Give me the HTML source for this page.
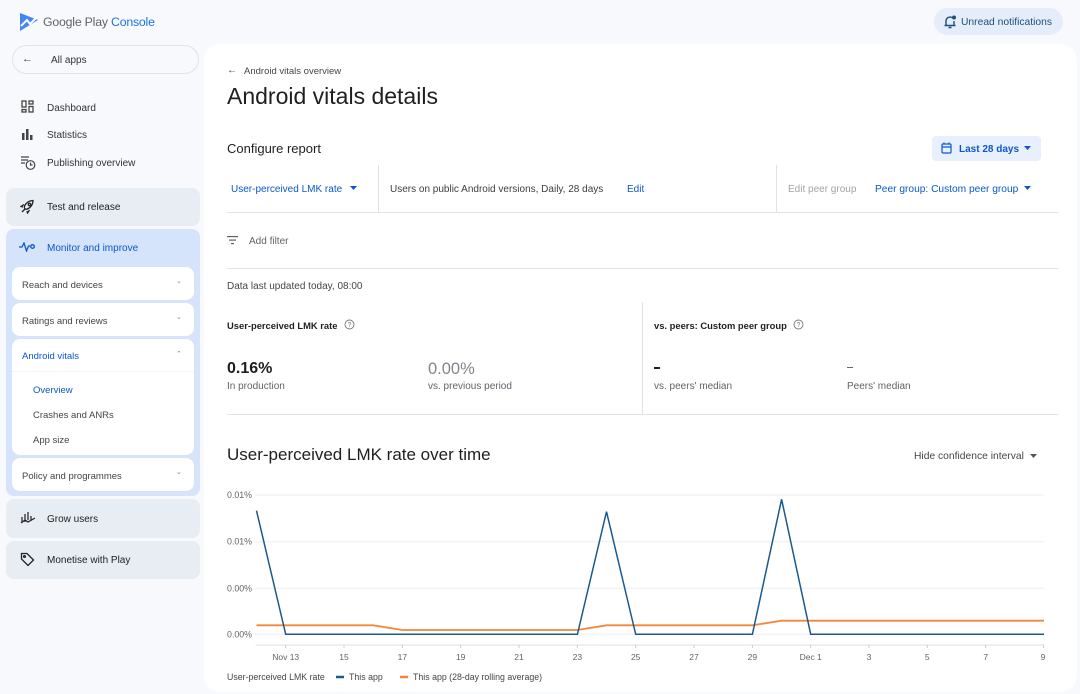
<!DOCTYPE html>
<html><head><meta charset="utf-8">
<style>
*{margin:0;padding:0;box-sizing:border-box}
html,body{width:1080px;height:694px;overflow:hidden;background:#f7f9fc;font-family:"Liberation Sans",Arial,sans-serif;color:#1f1f1f}
.a{position:absolute;white-space:nowrap;line-height:1}
.box{position:absolute;border-radius:8px}
.s10{font-size:10px}
.g{color:#444746}
.b{color:#0b57d0}
</style></head><body>

<!-- header -->
<svg class="a" style="left:19px;top:12px" width="22" height="20" viewBox="0 0 22 20">
<path d="M1 1 L19 8 L1 19 Z" fill="#4285f4"/>
<path d="M2 14 L8 8 L11 12 L18 5" stroke="#fff" stroke-width="2" fill="none"/>
</svg>
<div class="a" style="left:43px;top:16px;font-size:12.3px;letter-spacing:-0.2px;color:#5f6368">Google Play <span style="color:#1a73e8">Console</span></div>

<div class="box" style="left:934px;top:8px;width:129px;height:27px;border-radius:14px;background:#e5edfa"></div>
<svg class="a" style="left:943px;top:14px" width="14" height="15" viewBox="0 0 14 15">
<path d="M3 11 V7 a4 4 0 0 1 6-3.4 M11 7 V11 M1.5 11.5 H12.5 M5.5 13.5 H8.5" stroke="#1d4f7c" stroke-width="1.4" fill="none"/>
<circle cx="11" cy="3.5" r="2" fill="#1d4f7c"/>
</svg>
<div class="a" style="left:961px;top:17.5px;font-size:10.3px;color:#1d4f7c">Unread notifications</div>

<!-- sidebar -->
<div class="box" style="left:12px;top:45px;width:187px;height:29px;border-radius:15px;border:1px solid #dfe3ea;background:#f7f9fc"></div>
<div class="a" style="left:22px;top:54px;font-size:11px;color:#444">←</div>
<div class="a s10" style="left:51px;top:56px;color:#333">All apps</div>

<svg class="a" style="left:21px;top:100px" width="13" height="13" viewBox="0 0 13 13" fill="none" stroke="#444" stroke-width="1.3"><rect x="1" y="1" width="4" height="6"/><rect x="8" y="1" width="4" height="3"/><rect x="1" y="9.5" width="4" height="2.5"/><rect x="8" y="6.5" width="4" height="5.5"/></svg>
<div class="a s10" style="left:47px;top:104px;color:#333">Dashboard</div>
<svg class="a" style="left:21px;top:128px" width="13" height="12" viewBox="0 0 13 12" fill="#444"><rect x="1" y="5" width="2.5" height="7"/><rect x="5" y="1" width="2.5" height="11"/><rect x="9" y="7" width="2.5" height="5"/></svg>
<div class="a s10" style="left:47px;top:131px;color:#333">Statistics</div>
<svg class="a" style="left:20px;top:155px" width="16" height="16" viewBox="0 0 16 16" fill="none" stroke="#444" stroke-width="1.2"><path d="M1 2H9M1 5H8M1 8H5"/><circle cx="10.5" cy="10" r="4.3"/><path d="M10.5 7.5V10H12.5"/></svg>
<div class="a s10" style="left:47px;top:159px;color:#333">Publishing overview</div>

<div class="box" style="left:6px;top:188px;width:194px;height:38px;background:#e8ecf3"></div>
<svg class="a" style="left:20px;top:199px" width="15" height="15" viewBox="0 0 15 15" fill="none" stroke="#222" stroke-width="1.3"><path d="M5 10 C3 8 6 2 13 1.5 C13 8 7 11 5 10Z M5 10 L2 13 M3 8 L1 7.5 L4 5.5 M7 12 L7.5 14 L9.5 11"/><circle cx="9.5" cy="5.5" r="1.2"/></svg>
<div class="a s10" style="left:47px;top:203px;color:#1f1f1f">Test and release</div>

<div class="box" style="left:6px;top:229px;width:194px;height:267px;background:#d5e3fb"></div>
<svg class="a" style="left:19px;top:242px" width="17" height="10" viewBox="0 0 17 10" fill="none" stroke="#0b57d0" stroke-width="1.3"><path d="M0 5H3L5 1L7.5 9L9.5 4H11"/><circle cx="13.5" cy="4.5" r="1.8"/></svg>
<div class="a s10 b" style="left:47px;top:244px">Monitor and improve</div>

<div class="box" style="left:12px;top:267px;width:182px;height:33px;background:#fff"></div>
<div class="a" style="left:22px;top:280.5px;font-size:9.5px;color:#444">Reach and devices</div>
<div class="a" style="left:176px;top:278px;font-size:7px;color:#888">⌄</div>
<div class="box" style="left:12px;top:303px;width:182px;height:33px;background:#fff"></div>
<div class="a" style="left:22px;top:316.5px;font-size:9.5px;color:#444">Ratings and reviews</div>
<div class="a" style="left:176px;top:314px;font-size:7px;color:#888">⌄</div>
<div class="box" style="left:12px;top:339px;width:182px;height:116px;background:#fff"></div>
<div class="a b" style="left:22px;top:352px;font-size:9.5px">Android vitals</div>
<div class="a" style="left:176px;top:351px;font-size:7px;color:#888">⌃</div>
<div style="position:absolute;left:12px;top:371px;width:182px;height:1px;background:#f3f5f8"></div>
<div class="a b" style="left:33px;top:386px;font-size:9.5px">Overview</div>
<div class="a" style="left:33px;top:410.5px;font-size:9.5px;color:#444">Crashes and ANRs</div>
<div class="a" style="left:33px;top:435.5px;font-size:9.5px;color:#444">App size</div>
<div class="box" style="left:12px;top:458px;width:182px;height:33px;background:#fff"></div>
<div class="a" style="left:22px;top:471.5px;font-size:9.5px;color:#444">Policy and programmes</div>
<div class="a" style="left:176px;top:469px;font-size:7px;color:#888">⌄</div>

<div class="box" style="left:6px;top:499px;width:194px;height:39px;background:#e8ecf3"></div>
<svg class="a" style="left:20px;top:510px" width="16" height="16" viewBox="0 0 16 16" fill="none" stroke="#222" stroke-width="1.2"><path d="M2 7V12M5 4V12M8 2V10M11 6V10M1 13L5 10L8 12L15 8"/></svg>
<div class="a s10" style="left:47px;top:515px">Grow users</div>
<div class="box" style="left:6px;top:541px;width:194px;height:38px;background:#e8ecf3"></div>
<svg class="a" style="left:20px;top:552px" width="15" height="15" viewBox="0 0 15 15" fill="none" stroke="#222" stroke-width="1.3"><path d="M1.5 1.5H7L13.5 8L8 13.5L1.5 7Z"/><circle cx="4.5" cy="4.5" r="0.9"/></svg>
<div class="a s10" style="left:47px;top:556px">Monetise with Play</div>

<!-- main panel -->
<div class="box" style="left:204px;top:44px;width:873px;height:648px;border-radius:16px;background:#fff"></div>

<div class="a" style="left:227px;top:66px;font-size:10px;color:#444746">←</div>
<div class="a" style="left:244px;top:67px;font-size:9.5px;color:#444746">Android vitals overview</div>
<div class="a" style="left:227px;top:85px;font-size:23px;color:#1f1f1f">Android vitals details</div>
<div class="a" style="left:227px;top:142px;font-size:13px;color:#1f1f1f">Configure report</div>

<div class="box" style="left:932px;top:136px;width:109px;height:25px;border-radius:4px;background:#e8f0fe"></div>
<svg class="a" style="left:941px;top:142px" width="11" height="12" viewBox="0 0 11 12" fill="none" stroke="#0b57d0" stroke-width="1.2"><rect x="1" y="2" width="9" height="9" rx="1"/><path d="M1 5H10M3 0.5V2.5M8 0.5V2.5"/></svg>
<div class="a" style="left:959px;top:144.5px;font-size:10px;font-weight:bold;color:#0b57d0">Last 28 days</div>
<svg class="a" style="left:1024px;top:146px" width="8" height="5"><path d="M0 0H7L3.5 4Z" fill="#0b57d0"/></svg>

<div style="position:absolute;left:378px;top:165px;width:1px;height:47px;background:#e3e3e3"></div>
<div style="position:absolute;left:776px;top:165px;width:1px;height:47px;background:#e3e3e3"></div>
<div style="position:absolute;left:227px;top:212px;width:831px;height:1px;background:#e3e3e3"></div>
<div class="a s10 b" style="left:231px;top:185px">User-perceived LMK rate</div>
<svg class="a" style="left:350px;top:186px" width="8" height="5"><path d="M0 0H7L3.5 4Z" fill="#0b57d0"/></svg>
<div class="a s10" style="left:390px;top:185px;color:#3c4043">Users on public Android versions, Daily, 28 days</div>
<div class="a s10 b" style="left:627px;top:185px">Edit</div>
<div class="a s10" style="left:788px;top:185px;color:#a0a4a8">Edit peer group</div>
<div class="a s10 b" style="left:875px;top:185px;font-size:10.2px">Peer group: Custom peer group</div>
<svg class="a" style="left:1024px;top:186px" width="8" height="5"><path d="M0 0H7L3.5 4Z" fill="#0b57d0"/></svg>

<svg class="a" style="left:227px;top:236px" width="11" height="9" fill="#5f6368"><rect x="0" y="0" width="11" height="1.2"/><rect x="2" y="3.5" width="7" height="1.2"/><rect x="4" y="7" width="3" height="1.2"/></svg>
<div class="a s10" style="left:249px;top:237px;color:#5f6368">Add filter</div>
<div style="position:absolute;left:227px;top:268px;width:831px;height:1px;background:#e3e3e3"></div>

<div class="a s10" style="left:227px;top:282px;color:#444746">Data last updated today, 08:00</div>

<div style="position:absolute;left:642px;top:302px;width:1px;height:112px;background:#e3e3e3"></div>
<div style="position:absolute;left:227px;top:414px;width:831px;height:1px;background:#e3e3e3"></div>

<div class="a" style="left:227px;top:320.5px;font-size:9.4px;font-weight:bold;color:#1f1f1f">User-perceived LMK rate</div>
<svg class="a" style="left:344px;top:319px" width="11" height="11"><circle cx="5.5" cy="5.5" r="4.5" fill="none" stroke="#777" stroke-width="0.9"/><text x="5.5" y="8" font-size="7" text-anchor="middle" fill="#777" font-family="Liberation Sans">?</text></svg>
<div class="a" style="left:227px;top:361px;font-size:16px;font-weight:bold;color:#1f1f1f">0.16%</div>
<div class="a s10" style="left:227px;top:382px;color:#5f6368">In production</div>
<div class="a" style="left:428px;top:361px;font-size:16.5px;color:#80868b">0.00%</div>
<div class="a s10" style="left:428px;top:382px;color:#5f6368">vs. previous period</div>

<div class="a" style="left:654px;top:320.5px;font-size:9.4px;font-weight:bold;color:#1f1f1f">vs. peers: Custom peer group</div>
<svg class="a" style="left:793px;top:319px" width="11" height="11"><circle cx="5.5" cy="5.5" r="4.5" fill="none" stroke="#777" stroke-width="0.9"/><text x="5.5" y="8" font-size="7" text-anchor="middle" fill="#777" font-family="Liberation Sans">?</text></svg>
<div style="position:absolute;left:654px;top:367px;width:6px;height:2px;background:#1f1f1f"></div>
<div style="position:absolute;left:847px;top:367px;width:6px;height:1.3px;background:#666"></div>
<div class="a s10" style="left:654px;top:382px;color:#5f6368">vs. peers' median</div>
<div class="a s10" style="left:847px;top:382px;color:#5f6368">Peers' median</div>

<div class="a" style="left:227px;top:446px;font-size:17px;color:#1f1f1f">User-perceived LMK rate over time</div>
<div class="a" style="left:914px;top:452px;font-size:10.3px;color:#444746">Hide confidence interval</div>
<svg class="a" style="left:1030px;top:454px" width="8" height="5"><path d="M0 0H7L3.5 4Z" fill="#555"/></svg>

<!-- chart -->
<svg class="a" style="left:0;top:0" width="1080" height="694" viewBox="0 0 1080 694">
<g stroke="#eceef2" stroke-width="1">
<line x1="255" y1="495" x2="1044" y2="495"/>
<line x1="255" y1="541.7" x2="1044" y2="541.7"/>
<line x1="255" y1="588.3" x2="1044" y2="588.3"/>
<line x1="255" y1="634.3" x2="1044" y2="634.3"/>
</g>
<line x1="255.5" y1="645" x2="1044" y2="645" stroke="#dde1e8" stroke-width="1"/>
<g stroke="#c8ccd2" stroke-width="1">
<line x1="285.7" y1="645" x2="285.7" y2="648"/><line x1="344" y1="645" x2="344" y2="648"/><line x1="402.4" y1="645" x2="402.4" y2="648"/><line x1="460.7" y1="645" x2="460.7" y2="648"/><line x1="519" y1="645" x2="519" y2="648"/><line x1="577.4" y1="645" x2="577.4" y2="648"/><line x1="635.7" y1="645" x2="635.7" y2="648"/><line x1="694" y1="645" x2="694" y2="648"/><line x1="752.4" y1="645" x2="752.4" y2="648"/><line x1="810.7" y1="645" x2="810.7" y2="648"/><line x1="869" y1="645" x2="869" y2="648"/><line x1="927.3" y1="645" x2="927.3" y2="648"/><line x1="985.7" y1="645" x2="985.7" y2="648"/><line x1="1043.5" y1="645" x2="1043.5" y2="648"/>
</g>
<g font-family="Liberation Sans, Arial, sans-serif" font-size="8.8" fill="#5f6368" text-anchor="end">
<text x="252" y="498">0.01%</text>
<text x="252" y="544.7">0.01%</text>
<text x="252" y="591.3">0.00%</text>
<text x="252" y="637.3">0.00%</text>
</g>
<g font-family="Liberation Sans, Arial, sans-serif" font-size="8.5" fill="#5f6368" text-anchor="middle">
<text x="285.7" y="660">Nov 13</text><text x="344" y="660">15</text><text x="402.4" y="660">17</text><text x="460.7" y="660">19</text><text x="519" y="660">21</text><text x="577.4" y="660">23</text><text x="635.7" y="660">25</text><text x="694" y="660">27</text><text x="752.4" y="660">29</text><text x="810.7" y="660">Dec 1</text><text x="869" y="660">3</text><text x="927.3" y="660">5</text><text x="985.7" y="660">7</text><text x="1043" y="660">9</text>
</g>
<polyline fill="none" stroke="#f0883e" stroke-width="1.8" points="256.5,625.3 373.2,625.3 402.4,630 577.4,630 606.5,625.3 752.4,625.3 781.6,620.7 1044,620.7"/>
<polyline fill="none" stroke="#1b5a8e" stroke-width="1.5" stroke-linejoin="miter" points="256.5,510.7 285.7,634.3 577.4,634.3 606.5,511.7 635.7,634.3 752.4,634.3 781.6,499.3 810.7,634.3 1044,634.3"/>
<g font-family="Liberation Sans, Arial, sans-serif" font-size="8.8" fill="#444746">
<text x="227" y="680">User-perceived LMK rate</text>
<text x="349" y="680">This app</text>
<text x="413" y="680">This app (28-day rolling average)</text>
</g>
<line x1="336" y1="677" x2="344" y2="677" stroke="#1b5a8e" stroke-width="2.5"/>
<line x1="400" y1="677" x2="408" y2="677" stroke="#f0883e" stroke-width="2.5"/>
</svg>

</body></html>
